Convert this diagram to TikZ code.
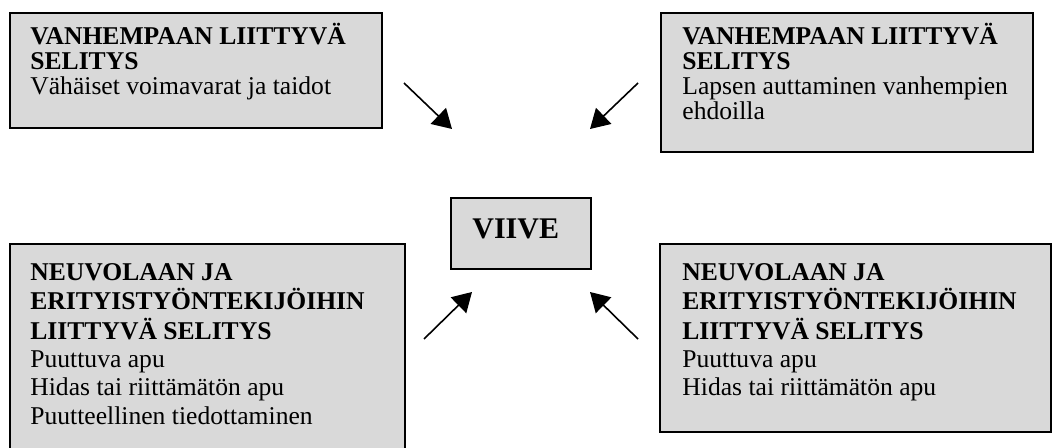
\documentclass[tikz,border=0pt]{standalone}
\usepackage{fontspec}
\setmainfont{Liberation Serif}
\usetikzlibrary{arrows.meta}
\definecolor{boxgray}{HTML}{D9D9D9}
\tikzset{
  box/.style={draw=black, line width=1pt, fill=boxgray},
  hd/.style={anchor=base west, inner sep=0pt, font=\fontsize{12.8}{14}\selectfont\bfseries},
  tx/.style={anchor=base west, inner sep=0pt, font=\fontsize{12.8}{14}\selectfont},
  arr/.style={line width=0.8pt, -{Triangle[length=9.5pt,width=11pt]}}
}
\begin{document}
\begin{tikzpicture}[x=0.5pt,y=-0.5pt]
\clip (0,0) rectangle (1053,448);
\fill[white] (0,0) rectangle (1053,448);
% boxes
\path[box] (10,13) rectangle (382,128);
\node[inner sep=0pt] (tl) at (196,70) {};
\path[box] (661,13) rectangle (1033,152);
\node[inner sep=0pt] (tr) at (847,82) {};
\path[box] (10,244) rectangle (405,470);
\node[inner sep=0pt] (bl) at (207,350) {};
\path[box] (660,244) rectangle (1051,432);
\node[inner sep=0pt] (br) at (855,338) {};
\path[box] (451,198) rectangle (591,269);
\node[inner sep=0pt] (viive) at (521,233) {};
% texts
\node[hd] (tl1) at (30,45) {VANHEMPAAN LIITTYVÄ};
\node[hd] (tl2) at (30,70) {SELITYS};
\node[tx] (tl3) at (30,95) {Vähäiset voimavarat ja taidot};
\node[hd] (tr1) at (682,45) {VANHEMPAAN LIITTYVÄ};
\node[hd] (tr2) at (682,70) {SELITYS};
\node[tx] (tr3) at (682,95) {Lapsen auttaminen vanhempien};
\node[tx] (tr4) at (682,120) {ehdoilla};
\node[hd] (bl1) at (30,281) {NEUVOLAAN JA};
\node[hd] (bl2) at (30,310) {ERITYISTYÖNTEKIJÖIHIN};
\node[hd] (bl3) at (30,339) {LIITTYVÄ SELITYS};
\node[tx] (bl4) at (30,367) {Puuttuva apu};
\node[tx] (bl5) at (30,395) {Hidas tai riittämätön apu};
\node[tx] (bl6) at (30,424) {Puutteellinen tiedottaminen};
\node[hd] (br1) at (682,281) {NEUVOLAAN JA};
\node[hd] (br2) at (682,310) {ERITYISTYÖNTEKIJÖIHIN};
\node[hd] (br3) at (682,339) {LIITTYVÄ SELITYS};
\node[tx] (br4) at (682,367) {Puuttuva apu};
\node[tx] (br5) at (682,395) {Hidas tai riittämätön apu};
\node[anchor=base west, inner sep=0pt, font=\fontsize{15}{17}\selectfont\bfseries] (vt) at (472,239) {VIIVE};
% arrow coordinates
\coordinate (a1s) at (404,83);  \coordinate (a1e) at (452,129);
\coordinate (a2s) at (638,83);  \coordinate (a2e) at (590,129);
\coordinate (a3s) at (424,339); \coordinate (a3e) at (472,292);
\coordinate (a4s) at (638,339); \coordinate (a4e) at (590,292);
\draw[arr] (a1s) -- (a1e);
\draw[arr] (a2s) -- (a2e);
\draw[arr] (a3s) -- (a3e);
\draw[arr] (a4s) -- (a4e);
\end{tikzpicture}
\end{document}
